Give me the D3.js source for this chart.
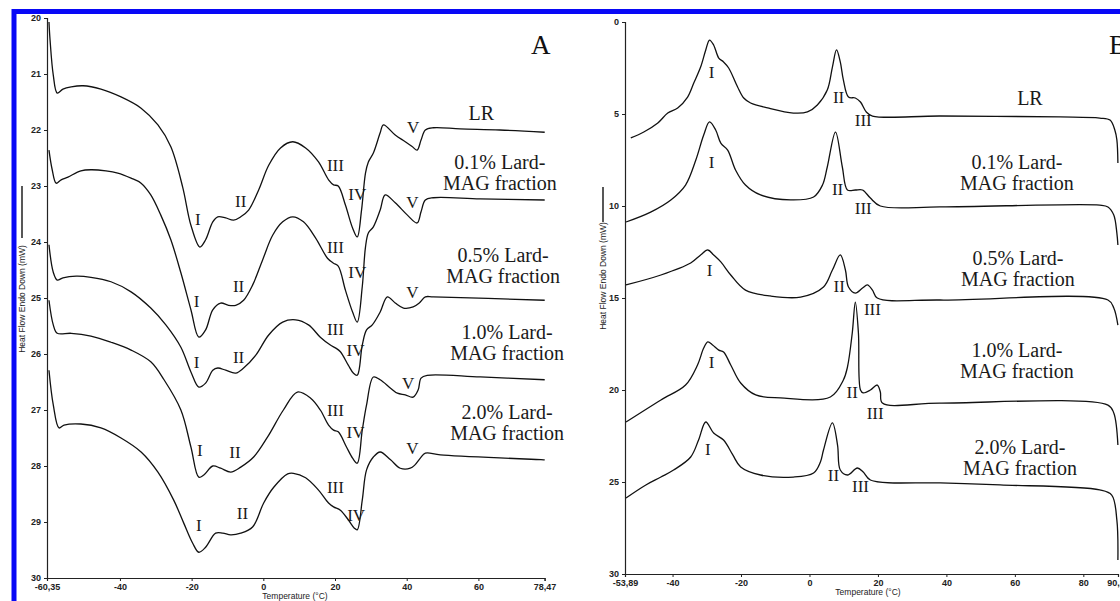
<!DOCTYPE html>
<html><head><meta charset="utf-8">
<script src="https://cdn.jsdelivr.net/npm/d3@7"></script>
<style>
html,body{margin:0;padding:0;background:#fff;overflow:hidden}
svg{display:block}
</style></head><body>
<svg id="chart" width="1120" height="601"></svg>
<script>
// ---------- Panel A (cooling thermograms) : [temperature °C, heat flow mW] ----------
const lrA = [[-59.8,20.07],[-59.5,20.39],[-58.6,21.02],[-57.5,21.34],[-55.9,21.27],[-53.6,21.23],[-50.3,21.21],[-45.3,21.27],[-39.7,21.41],[-34.1,21.61],[-29.4,21.91],[-25.8,22.30],[-22.5,23.02],[-20.2,23.70],[-17.7,24.09],[-16.1,23.96],[-14.1,23.64],[-12.7,23.55],[-10.5,23.57],[-8.3,23.61],[-6.3,23.55],[-4.1,23.43],[-1.3,23.07],[1.5,22.63],[4.8,22.32],[8.2,22.21],[11.8,22.32],[15.4,22.57],[18.2,22.89],[19.6,22.98],[20.9,23.00],[22.9,23.34],[24.9,23.75],[26.2,23.91],[27.4,23.43],[28.5,22.77],[29.3,22.57],[30.7,22.41],[32.6,22.05],[33.5,21.91],[36.8,22.09],[39.6,22.21],[41.6,22.30],[42.9,22.36],[44.0,22.18],[45.2,22.00],[47.4,21.96],[54.9,21.98],[66.0,22.00],[78.5,22.04]];
const mag01A = [[-59.8,22.36],[-58.9,22.71],[-57.8,22.95],[-56.4,22.89],[-54.5,22.84],[-50.9,22.73],[-48.1,22.71],[-43.9,22.73],[-40.6,22.77],[-36.9,22.86],[-34.1,22.95],[-31.4,23.16],[-28.6,23.52],[-25.8,23.96],[-23.0,24.55],[-20.2,25.21],[-18.0,25.70],[-16.1,25.57],[-14.1,25.21],[-11.9,25.09],[-9.7,25.13],[-7.7,25.13],[-5.5,25.04],[-3.0,24.77],[-0.2,24.32],[2.6,23.88],[5.4,23.64],[8.2,23.55],[11.2,23.64],[14.6,23.93],[17.9,24.29],[19.6,24.38],[20.9,24.43],[22.9,24.86],[24.9,25.25],[26.2,25.43],[27.6,24.80],[28.5,24.09],[29.3,23.84],[30.7,23.73],[32.6,23.43],[34.0,23.16],[36.8,23.30],[40.2,23.52],[42.9,23.66],[44.0,23.46],[45.2,23.25],[47.4,23.21],[60.5,23.23],[78.5,23.25]];
const mag05A = [[-59.8,24.05],[-58.6,24.54],[-57.5,24.68],[-55.9,24.64],[-52.2,24.61],[-48.1,24.63],[-42.5,24.71],[-36.9,24.89],[-31.4,25.18],[-27.2,25.48],[-23.0,25.88],[-20.2,26.32],[-18.0,26.59],[-16.1,26.52],[-14.1,26.29],[-12.7,26.25],[-10.5,26.29],[-7.7,26.34],[-5.5,26.25],[-2.1,26.02],[1.5,25.66],[5.4,25.43],[9.0,25.39],[12.6,25.48],[15.9,25.70],[18.7,25.84],[20.1,25.89],[21.5,25.96],[23.7,26.20],[25.1,26.34],[26.2,26.38],[27.6,25.84],[28.8,25.57],[30.4,25.48],[32.6,25.25],[34.6,24.98],[36.8,25.09],[39.1,25.18],[41.8,25.16],[43.5,25.09],[45.2,24.98],[47.4,24.98],[78.5,25.04]];
const mag10A = [[-59.8,25.04],[-58.6,25.48],[-57.5,25.63],[-53.6,25.63],[-48.1,25.68],[-42.5,25.79],[-36.9,25.93],[-31.4,26.14],[-27.7,26.46],[-23.0,27.00],[-20.2,27.66],[-18.0,28.20],[-16.6,28.16],[-14.1,28.00],[-11.9,28.04],[-9.1,28.11],[-6.3,28.02],[-2.7,27.84],[1.2,27.48],[5.6,27.00],[9.5,26.68],[13.2,26.79],[15.9,27.00],[18.2,27.27],[19.6,27.36],[20.9,27.39],[23.2,27.66],[24.9,27.86],[26.2,27.95],[27.6,27.36],[28.8,26.91],[30.7,26.41],[32.6,26.46],[35.5,26.61],[37.4,26.70],[39.6,26.73],[41.8,26.77],[43.2,26.64],[44.0,26.43],[45.7,26.38],[60.5,26.41],[78.5,26.46]];
const mag20A = [[-59.8,26.29],[-58.6,26.91],[-57.0,27.32],[-55.6,27.27],[-50.9,27.25],[-45.3,27.32],[-39.7,27.50],[-34.1,27.75],[-29.4,28.11],[-25.0,28.61],[-22.2,29.02],[-19.7,29.38],[-18.0,29.54],[-16.1,29.45],[-13.3,29.20],[-11.3,29.20],[-9.1,29.23],[-6.3,29.20],[-3.0,29.09],[0.1,28.66],[2.9,28.38],[6.8,28.14],[8.4,28.13],[11.8,28.21],[15.4,28.43],[18.2,28.66],[19.6,28.73],[21.5,28.79],[23.7,28.96],[25.4,29.11],[26.2,29.14],[27.6,28.61],[28.8,28.07],[30.7,27.84],[32.6,27.75],[35.5,27.89],[38.2,28.04],[41.0,28.04],[42.3,27.98],[43.8,27.86],[45.2,27.77],[49.4,27.80],[78.5,27.89]];

// ---------- Panel B (heating thermograms) ----------
const lrB = [[-52.2,6.30],[-48.4,5.98],[-44.3,5.49],[-41.4,4.95],[-38.5,4.67],[-35.6,4.08],[-33.8,3.32],[-31.8,2.45],[-30.3,1.52],[-29.2,0.98],[-28.0,1.25],[-26.5,1.96],[-25.1,2.17],[-23.6,2.50],[-21.0,3.53],[-19.2,4.13],[-17.2,4.40],[-12.2,4.67],[-4.7,4.95],[-0.6,4.89],[2.3,4.51],[5.2,3.70],[6.7,2.45],[7.9,1.52],[9.0,2.17],[9.9,3.15],[11.4,4.08],[13.4,4.13],[14.9,4.35],[16.6,4.89],[18.4,5.11],[38.2,5.11],[73.2,5.16],[84.8,5.22],[87.8,5.33],[89.2,5.87],[89.8,6.41],[90.1,7.66]];
const mag01B = [[-53.6,10.87],[-46.4,10.33],[-40.5,9.67],[-36.2,8.86],[-33.2,7.50],[-30.9,6.14],[-29.2,5.43],[-27.4,5.87],[-25.9,6.58],[-23.9,6.96],[-21.6,8.04],[-18.7,8.86],[-14.3,9.40],[-5.5,9.67],[1.2,9.51],[3.8,8.86],[5.2,7.88],[7.6,5.98],[9.6,7.88],[11.1,9.13],[13.4,9.13],[15.5,9.13],[17.8,9.57],[20.7,10.00],[38.2,10.05],[84.8,9.95],[87.2,10.05],[88.9,10.49],[89.8,11.47],[90.1,12.12]];
const mag05B = [[-53.6,14.29],[-43.4,13.75],[-34.7,13.10],[-31.8,12.66],[-29.7,12.39],[-28.0,12.66],[-25.9,13.04],[-23.0,13.75],[-18.7,14.57],[-11.4,14.89],[-2.6,14.95],[4.1,14.40],[6.7,13.48],[9.0,12.66],[10.5,13.48],[11.4,14.40],[13.4,14.73],[15.5,14.46],[16.9,14.29],[18.4,14.57],[19.8,15.00],[38.2,15.11],[87.2,15.11],[88.9,15.54],[90.1,16.47]];
const mag10B = [[-53.6,21.74],[-43.4,20.54],[-36.2,19.73],[-32.7,18.64],[-30.9,17.72],[-29.7,17.39],[-28.3,17.55],[-26.5,17.83],[-25.1,17.93],[-23.0,18.64],[-20.1,19.62],[-15.7,20.27],[-8.5,20.43],[6.1,20.38],[9.9,19.46],[11.1,18.75],[12.5,16.90],[13.4,15.22],[14.3,16.90],[14.9,20.00],[15.7,20.16],[17.8,20.00],[19.8,19.73],[20.7,20.11],[21.3,20.71],[38.2,20.71],[87.2,20.82],[88.9,21.25],[90.1,22.99]];
const mag20B = [[-53.6,25.87],[-47.8,25.16],[-43.4,24.73],[-39.7,24.35],[-34.7,23.64],[-32.4,22.72],[-30.3,21.74],[-28.0,22.34],[-25.1,22.72],[-22.4,23.53],[-20.1,24.18],[-14.3,24.62],[-4.7,24.73],[1.2,24.51],[3.2,23.91],[4.1,23.26],[6.7,21.79],[8.2,22.99],[9.0,24.35],[11.1,24.62],[14.0,24.24],[15.7,24.46],[17.8,24.89],[38.2,25.05],[55.7,25.16],[84.8,25.43],[88.3,25.71],[89.8,27.07],[90.1,29.24]];

// ---------- Curve names ----------
const seriesLines = [["LR"], ["0.1% Lard-", "MAG fraction"], ["0.5% Lard-", "MAG fraction"], ["1.0% Lard-", "MAG fraction"], ["2.0% Lard-", "MAG fraction"]];
// anchor of each curve name, [temperature, heat flow]
const seriesAnchorA = [[60.8,21.70],[66.0,22.57],[66.9,24.23],[68.0,25.61],[68.0,27.04]];
const seriesAnchorB = [[64.4,4.13],[60.6,7.61],[60.9,12.83],[60.6,17.83],[61.5,23.10]];

// ---------- Transition labels [text, temperature, heat flow] ----------
const peaksA = [
  ["I",-18.3,23.59],["II",-6.3,23.27],["III",20.1,22.63],["IV",26.2,23.16],["V",41.8,21.95],
  ["I",-18.6,25.07],["II",-6.9,24.80],["III",20.1,24.09],["IV",26.2,24.54],["V",41.6,23.30],
  ["I",-18.6,26.16],["II",-6.9,26.07],["III",20.1,25.57],["IV",25.7,25.93],["V",41.6,24.91],
  ["I",-17.7,27.73],["II",-7.9,27.75],["III",20.1,27.00],["IV",25.7,27.41],["V",40.4,26.52],
  ["I",-18.0,29.07],["II",-5.8,28.84],["III",20.1,28.39],["IV",25.9,28.89],["V",41.6,27.68]
];
const peaksB = [
  ["I",-28.6,2.77],["II",8.5,4.08],["III",15.7,5.33],
  ["I",-28.6,7.66],["II",8.2,9.13],["III",15.7,10.11],
  ["I",-29.2,13.48],["II",8.7,14.40],["III",18.4,15.65],
  ["I",-28.6,18.53],["II",12.5,20.16],["III",19.2,21.25],
  ["I",-29.7,23.26],["II",7.0,24.62],["III",14.9,25.27]
];

// ---------- Axes ----------
const xTicksA = [-60.35,-40,-20,0,20,40,60,78.47];
const xTickLabelsA = ["-60,35","-40","-20","0","20","40","60","78,47"];
const yTicksA = [20,21,22,23,24,25,26,27,28,29,30];
const xTicksB = [-53.89,-40,-20,0,20,40,60,80,90.13];
const xTickLabelsB = ["-53,89","-40","-20","0","20","40","60","80","90,13"];
const yTicksB = [0,5,10,15,20,25,30];

const svg = d3.select("#chart");
const SERIF = "Liberation Serif, Times New Roman, serif";
const SANS = "Liberation Sans, Arial, sans-serif";

// frame around the figure
svg.append("rect").attr("x",14).attr("y",11.5).attr("width",1200).attr("height",700)
  .attr("fill","none").attr("stroke","#0808f6").attr("stroke-width",5);

function panel(cfg) {
  const g = svg.append("g");
  const x = cfg.x, y = cfg.y;

  const yAxis = d3.axisLeft(y).tickValues(cfg.yTicks).tickSize(3).tickPadding(3).tickFormat(d3.format("d"));
  const ya = g.append("g").attr("transform", `translate(${x.range()[0]},0)`).call(yAxis);
  const xAxis = d3.axisBottom(x).tickValues(cfg.xTicks).tickSize(3).tickPadding(3)
    .tickFormat((d, i) => cfg.xLabels[i]);
  const xa = g.append("g").attr("transform", `translate(0,${y.range()[0]})`).call(xAxis);
  [ya, xa].forEach(a => {
    a.select(".domain").attr("stroke","#222").attr("stroke-width",1.2);
    a.selectAll(".tick line").attr("stroke","#222");
    a.selectAll("text").attr("font-family",SANS).attr("font-size",9).attr("font-weight","bold").attr("fill","#222");
  });

  // axis titles
  g.append("text").attr("x", cfg.xTitleX).attr("y", y.range()[0] + 21)
    .attr("text-anchor","middle").attr("font-family",SANS).attr("font-size",8.5).attr("fill","#222")
    .text("Temperature (°C)");
  g.append("text").attr("transform", `translate(${cfg.yTitleX},${cfg.yTitleY}) rotate(-90)`)
    .attr("text-anchor","middle").attr("dominant-baseline","central")
    .attr("font-family",SANS).attr("font-size",8.5).attr("fill","#222")
    .text("Heat Flow Endo Down (mW)");
  g.append("line").attr("x1",cfg.yTitleX).attr("x2",cfg.yTitleX)
    .attr("y1",cfg.lineTop).attr("y2",cfg.lineBottom).attr("stroke","#111").attr("stroke-width",1.4);

  // thermogram curves
  const line = d3.line().x(d => x(d[0])).y(d => y(d[1])).curve(d3.curveCatmullRom.alpha(0.5));
  g.selectAll("path.curve").data(cfg.series).join("path").attr("class","curve")
    .attr("d", line).attr("fill","none").attr("stroke","#111").attr("stroke-width",1.3)
    .attr("stroke-linejoin","round");

  // transition labels
  g.selectAll("text.peak").data(cfg.peaks).join("text").attr("class","peak")
    .attr("x", d => x(d[1])).attr("y", d => y(d[2]))
    .attr("text-anchor","middle").attr("dominant-baseline","central")
    .attr("font-family",SERIF).attr("font-size",17).attr("fill","#1a1a1a")
    .text(d => d[0]);

  // curve names
  seriesLines.forEach((lines, i) => {
    const a = cfg.anchors[i];
    lines.forEach((t, j) => {
      g.append("text").attr("x", x(a[0])).attr("y", y(a[1]) + j * 21)
        .attr("text-anchor","middle").attr("dominant-baseline","central")
        .attr("font-family",SERIF).attr("font-size",20).attr("fill","#1a1a1a").text(t);
    });
  });

  // panel letter
  g.append("text").attr("x", cfg.letterX).attr("y", 45).attr("text-anchor","start")
    .attr("dominant-baseline","central").attr("font-family",SERIF).attr("font-size",27)
    .attr("fill","#111").text(cfg.letter);
}

panel({
  x: d3.scaleLinear([-60.35, 78.47], [47, 544.6]),
  y: d3.scaleLinear([30, 20], [578, 18]),
  xTicks: xTicksA, xLabels: xTickLabelsA, yTicks: yTicksA,
  series: [lrA, mag01A, mag05A, mag10A, mag20A],
  peaks: peaksA, anchors: seriesAnchorA,
  xTitleX: 295, yTitleX: 22, yTitleY: 299, lineTop: 186, lineBottom: 238,
  letter: "A", letterX: 531
});
panel({
  x: d3.scaleLinear([-53.89, 90.13], [625, 1118]),
  y: d3.scaleLinear([30, 0], [574, 22]),
  xTicks: xTicksB, xLabels: xTickLabelsB, yTicks: yTicksB,
  series: [lrB, mag01B, mag05B, mag10B, mag20B],
  peaks: peaksB, anchors: seriesAnchorB,
  xTitleX: 868, yTitleX: 603, yTitleY: 276, lineTop: 187, lineBottom: 222,
  letter: "B", letterX: 1109
});
</script>
</body></html>
